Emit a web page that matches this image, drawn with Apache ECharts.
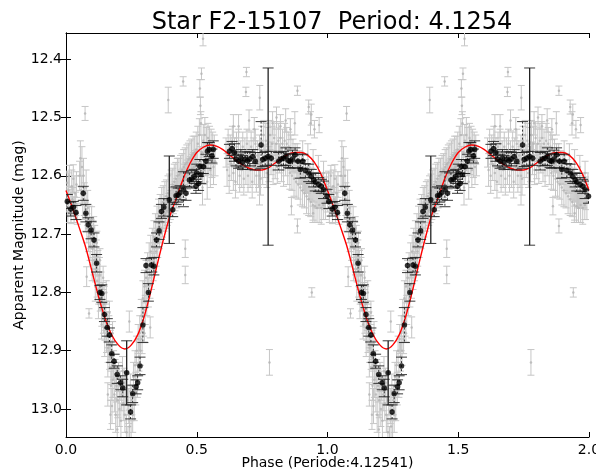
<!DOCTYPE html>
<html><head><meta charset="utf-8">
<script src="https://cdn.jsdelivr.net/npm/echarts@6/dist/echarts.min.js"></script>
<style>html,body{margin:0;padding:0;background:#fff}#c{width:596px;height:472px}</style>
</head><body><div id="c"></div>
<script>
// ---- data (phase in one cycle, magnitude) ----
const titleText = 'Star F2-15107  Period: 4.1254';
const xName = 'Phase (Periode:4.12541)';
const yName = 'Apparent Magnitude (mag)';
const xTicks = [0, 0.5, 1, 1.5, 2];
const yTicks = [12.4, 12.5, 12.6, 12.7, 12.8, 12.9, 13.0];
const cycles = [0, 1];

const fitPhase = [0,0.025,0.05,0.075,0.1,0.125,0.15,0.175,0.2,0.225,0.25,0.275,0.3,0.325,0.35,0.375,0.4,0.425,0.45,0.475,0.5,0.525,0.55,0.575,0.6,0.625,0.65,0.675,0.7,0.725,0.75,0.775,0.8,0.825,0.85,0.875,0.9,0.925,0.95,0.975,1.0];
const fitMag = [12.625,12.655,12.688,12.722,12.765,12.808,12.845,12.873,12.890,12.897,12.890,12.872,12.840,12.797,12.750,12.705,12.665,12.635,12.603,12.578,12.560,12.551,12.547,12.549,12.555,12.564,12.573,12.581,12.587,12.590,12.590,12.586,12.578,12.570,12.563,12.560,12.560,12.565,12.577,12.597,12.625];

// [phase, mag, error]
const blackPoints = [
[0.005,12.644,0.012],[0.018,12.657,0.012],[0.028,12.654,0.01],[0.038,12.663,0.012],[0.066,12.630,0.012],
[0.076,12.664,0.015],[0.085,12.684,0.012],[0.096,12.693,0.015],[0.107,12.710,0.012],[0.117,12.750,0.015],
[0.130,12.800,0.012],[0.137,12.802,0.015],[0.147,12.838,0.012],[0.158,12.860,0.015],[0.166,12.873,0.012],
[0.175,12.905,0.015],[0.184,12.918,0.012],[0.196,12.941,0.015],[0.209,12.955,0.012],[0.217,12.964,0.015],
[0.232,12.938,0.055],[0.247,13.005,0.012],[0.255,12.974,0.015],[0.268,12.962,0.012],[0.274,12.955,0.012],
[0.283,12.926,0.015],[0.294,12.856,0.03],[0.306,12.754,0.012],[0.315,12.800,0.015],[0.327,12.753,0.012],
[0.336,12.755,0.015],[0.346,12.710,0.012],[0.356,12.694,0.015],[0.365,12.661,0.012],[0.374,12.654,0.015],
[0.395,12.641,0.075],[0.408,12.658,0.012],[0.421,12.634,0.015],[0.429,12.633,0.012],[0.436,12.629,0.012],
[0.449,12.623,0.03],[0.459,12.630,0.012],[0.472,12.607,0.012],[0.481,12.606,0.015],[0.490,12.601,0.012],
[0.500,12.595,0.015],[0.497,12.618,0.012],[0.507,12.613,0.012],[0.512,12.584,0.012],[0.516,12.598,0.015],
[0.525,12.584,0.012],[0.535,12.575,0.012],[0.541,12.558,0.015],[0.548,12.555,0.012],[0.558,12.566,0.012],
[0.563,12.555,0.015],[0.625,12.558,0.012],[0.635,12.553,0.012],[0.644,12.560,0.015],[0.650,12.571,0.012],
[0.660,12.575,0.012],[0.669,12.570,0.015],[0.675,12.577,0.012],[0.685,12.571,0.012],[0.694,12.574,0.015],
[0.703,12.571,0.012],[0.714,12.567,0.012],[0.724,12.575,0.015],[0.746,12.547,0.04],[0.752,12.572,0.012],
[0.762,12.570,0.012],[0.773,12.567,0.152],[0.785,12.570,0.012],[0.813,12.575,0.015],[0.823,12.571,0.012],
[0.832,12.570,0.012],[0.841,12.567,0.015],[0.851,12.574,0.012],[0.857,12.575,0.012],[0.866,12.571,0.015],
[0.876,12.564,0.012],[0.887,12.575,0.012],[0.896,12.589,0.015],[0.905,12.575,0.012],[0.915,12.591,0.012],
[0.928,12.595,0.015],[0.938,12.601,0.012],[0.947,12.607,0.012],[0.953,12.611,0.015],[0.966,12.615,0.012],
[0.976,12.618,0.012],[0.985,12.624,0.015],[0.998,12.635,0.012]
];

const grayPoints = [
[0.001,12.640,0.022],[0.004,12.612,0.020],[0.007,12.655,0.025],[0.010,12.625,0.030],[0.013,12.600,0.018],
[0.016,12.645,0.022],[0.019,12.662,0.020],[0.022,12.618,0.028],[0.025,12.640,0.020],[0.028,12.605,0.024],
[0.031,12.658,0.022],[0.034,12.630,0.030],[0.037,12.648,0.020],[0.040,12.615,0.022],[0.043,12.665,0.018],
[0.052,12.600,0.025],[0.055,12.570,0.030],[0.058,12.625,0.025],[0.061,12.585,0.035],[0.064,12.650,0.025],
[0.067,12.600,0.030],[0.070,12.640,0.028],[0.073,12.493,0.012],[0.074,12.670,0.025],[0.077,12.620,0.030],
[0.080,12.690,0.025],[0.079,12.773,0.017],[0.083,12.655,0.030],[0.086,12.705,0.025],[0.088,12.836,0.008],
[0.089,12.680,0.028],[0.092,12.720,0.025],
[0.095,12.700,0.025],[0.098,12.675,0.022],[0.101,12.725,0.028],[0.104,12.700,0.020],[0.107,12.745,0.025],
[0.110,12.715,0.030],[0.113,12.760,0.022],[0.116,12.735,0.025],[0.119,12.780,0.028],[0.122,12.750,0.022],
[0.125,12.795,0.025],[0.128,12.770,0.030],[0.131,12.810,0.022],[0.134,12.790,0.025],[0.137,12.830,0.028],
[0.140,12.805,0.022],[0.143,12.845,0.025],[0.146,12.820,0.030],[0.149,12.860,0.022],[0.152,12.840,0.025],
[0.155,12.875,0.028],[0.158,12.855,0.022],[0.161,12.895,0.025],[0.164,12.870,0.030],[0.167,12.910,0.022],
[0.170,12.890,0.025],[0.173,12.930,0.028],[0.176,12.905,0.022],[0.179,12.950,0.030],[0.182,12.925,0.025],
[0.100,12.760,0.020],[0.106,12.690,0.020],[0.112,12.790,0.025],[0.118,12.715,0.020],[0.124,12.820,0.025],
[0.130,12.745,0.020],[0.136,12.855,0.025],[0.142,12.775,0.020],[0.148,12.885,0.025],[0.154,12.800,0.020],
[0.160,12.920,0.025],[0.166,12.835,0.020],[0.172,12.960,0.025],[0.178,12.870,0.020],
[0.160,12.975,0.020],[0.170,13.010,0.025],[0.176,12.995,0.030],
[0.185,12.975,0.030],[0.188,12.940,0.025],[0.190,13.010,0.030],[0.193,12.960,0.028],[0.196,13.035,0.025],
[0.198,12.985,0.030],[0.201,12.945,0.025],[0.204,13.000,0.030],[0.207,12.960,0.025],[0.210,13.020,0.030],
[0.213,12.975,0.028],[0.216,12.935,0.025],[0.219,12.990,0.030],[0.222,12.955,0.025],[0.225,13.010,0.030],
[0.228,12.965,0.028],[0.231,13.040,0.030],[0.234,12.985,0.025],[0.237,13.060,0.030],[0.240,12.995,0.030],
[0.243,13.030,0.028],[0.246,12.970,0.030],[0.249,13.050,0.030],[0.252,12.985,0.025],[0.255,13.010,0.030],
[0.258,12.945,0.025],[0.261,12.990,0.030],[0.264,12.925,0.025],[0.267,12.965,0.028],[0.270,12.900,0.025],
[0.273,12.950,0.030],[0.276,12.880,0.025],[0.242,12.850,0.018],
[0.279,12.910,0.025],[0.282,12.870,0.030],[0.285,12.900,0.025],[0.288,12.840,0.028],[0.291,12.880,0.025],
[0.294,12.810,0.030],[0.297,12.850,0.025],[0.300,12.790,0.028],[0.303,12.830,0.025],[0.306,12.775,0.030],
[0.309,12.815,0.025],[0.312,12.760,0.028],[0.315,12.800,0.025],[0.318,12.745,0.030],[0.321,12.785,0.025],
[0.324,12.730,0.028],[0.327,12.770,0.025],[0.330,12.720,0.030],[0.333,12.755,0.025],[0.336,12.705,0.028],
[0.339,12.740,0.025],[0.342,12.695,0.030],[0.345,12.730,0.025],[0.348,12.680,0.028],[0.351,12.715,0.025],
[0.354,12.670,0.030],[0.357,12.700,0.025],[0.360,12.660,0.028],[0.363,12.690,0.025],[0.366,12.650,0.030],
[0.369,12.680,0.025],[0.372,12.645,0.028],[0.375,12.670,0.025],[0.378,12.640,0.030],[0.381,12.665,0.025],
[0.384,12.635,0.028],[0.387,12.660,0.025],[0.390,12.630,0.030],[0.393,12.655,0.025],[0.396,12.625,0.028],
[0.399,12.650,0.025],[0.402,12.620,0.030],[0.405,12.645,0.025],[0.408,12.615,0.028],[0.411,12.640,0.025],
[0.414,12.610,0.030],[0.417,12.635,0.025],[0.420,12.605,0.028],[0.423,12.630,0.025],[0.426,12.600,0.030],
[0.429,12.625,0.025],[0.432,12.598,0.028],[0.435,12.620,0.025],[0.438,12.595,0.030],[0.441,12.615,0.025],
[0.444,12.590,0.028],[0.447,12.612,0.025],[0.450,12.585,0.030],[0.453,12.605,0.025],[0.456,12.580,0.028],
[0.459,12.602,0.025],[0.462,12.577,0.030],[0.465,12.598,0.025],[0.468,12.572,0.028],[0.471,12.595,0.025],
[0.474,12.570,0.030],[0.477,12.592,0.025],[0.480,12.565,0.028],[0.483,12.588,0.025],[0.486,12.562,0.030],
[0.489,12.585,0.025],[0.492,12.560,0.028],[0.495,12.582,0.025],[0.498,12.555,0.030],
[0.391,12.470,0.022],[0.448,12.438,0.008],[0.456,12.725,0.015],[0.456,12.770,0.015],[0.300,12.870,0.015],[0.322,12.860,0.018],
[0.501,12.580,0.025],[0.504,12.545,0.030],[0.507,12.600,0.025],[0.510,12.530,0.028],[0.512,12.450,0.015],
[0.513,12.575,0.025],[0.514,12.480,0.015],[0.516,12.510,0.020],[0.518,12.425,0.010],[0.519,12.560,0.030],
[0.522,12.620,0.030],[0.524,12.365,0.012],[0.525,12.540,0.028],[0.528,12.590,0.025],[0.531,12.530,0.030],
[0.534,12.575,0.025],[0.537,12.545,0.028],[0.540,12.610,0.030],[0.543,12.535,0.025],[0.546,12.570,0.028],
[0.549,12.540,0.025],[0.552,12.590,0.030],[0.555,12.545,0.025],[0.558,12.575,0.028],[0.561,12.550,0.025],
[0.564,12.585,0.030],[0.567,12.555,0.025],[0.570,12.575,0.025],
[0.612,12.560,0.025],[0.616,12.590,0.028],[0.620,12.545,0.025],[0.624,12.600,0.030],[0.628,12.555,0.025],
[0.632,12.580,0.028],[0.636,12.540,0.025],[0.640,12.595,0.030],[0.644,12.560,0.025],[0.648,12.610,0.028],
[0.652,12.550,0.025],[0.656,12.585,0.030],[0.660,12.545,0.025],[0.664,12.600,0.028],[0.668,12.565,0.025],
[0.672,12.590,0.030],[0.676,12.550,0.025],[0.680,12.605,0.028],[0.684,12.560,0.025],[0.688,12.585,0.030],
[0.692,12.545,0.025],[0.696,12.600,0.028],[0.700,12.565,0.025],[0.704,12.590,0.030],[0.708,12.550,0.025],
[0.712,12.610,0.028],[0.716,12.560,0.025],[0.720,12.585,0.030],[0.724,12.545,0.025],[0.728,12.600,0.028],
[0.732,12.565,0.025],[0.736,12.590,0.030],[0.740,12.555,0.025],[0.744,12.605,0.028],[0.748,12.540,0.025],
[0.752,12.585,0.030],[0.756,12.530,0.025],[0.760,12.575,0.028],[0.764,12.540,0.030],[0.768,12.595,0.025],
[0.772,12.545,0.028],[0.776,12.580,0.030],[0.780,12.530,0.025],[0.784,12.570,0.028],[0.788,12.545,0.030],
[0.792,12.590,0.025],[0.796,12.535,0.028],[0.800,12.575,0.030],[0.804,12.545,0.025],[0.808,12.585,0.028],
[0.812,12.540,0.030],[0.816,12.570,0.025],[0.820,12.535,0.028],[0.824,12.580,0.030],[0.828,12.545,0.025],
[0.832,12.590,0.028],[0.836,12.540,0.030],[0.840,12.575,0.025],[0.844,12.545,0.028],[0.848,12.585,0.030],
[0.852,12.550,0.025],[0.856,12.595,0.028],[0.860,12.560,0.030],[0.864,12.600,0.025],[0.868,12.565,0.028],
[0.872,12.605,0.030],[0.876,12.570,0.025],[0.880,12.610,0.028],[0.884,12.575,0.030],[0.888,12.615,0.025],
[0.892,12.585,0.028],[0.896,12.620,0.030],[0.900,12.590,0.025],[0.904,12.625,0.028],[0.908,12.595,0.030],
[0.912,12.630,0.025],[0.916,12.600,0.028],[0.920,12.635,0.030],[0.924,12.605,0.025],[0.928,12.640,0.028],
[0.932,12.610,0.030],[0.936,12.645,0.025],[0.940,12.615,0.028],[0.944,12.650,0.030],[0.948,12.620,0.025],
[0.952,12.652,0.028],[0.956,12.625,0.030],[0.960,12.655,0.025],[0.964,12.628,0.028],[0.968,12.650,0.030],
[0.972,12.630,0.025],[0.976,12.655,0.028],[0.980,12.625,0.030],[0.984,12.650,0.025],[0.988,12.630,0.028],
[0.992,12.645,0.030],[0.996,12.620,0.025],
[0.905,12.560,0.020],[0.925,12.565,0.020],[0.945,12.575,0.020],[0.965,12.585,0.020],[0.985,12.595,0.020],
[0.790,12.510,0.020],[0.805,12.500,0.018],[0.820,12.515,0.020],[0.840,12.505,0.020],[0.858,12.520,0.018],
[0.875,12.510,0.020],[0.935,12.510,0.020],[0.950,12.520,0.015],[0.660,12.515,0.020],[0.700,12.505,0.018],
[0.720,12.520,0.020],[0.640,12.515,0.020],
[0.690,12.422,0.008],[0.688,12.456,0.008],[0.741,12.466,0.021],[0.740,12.600,0.050],[0.885,12.454,0.008],
[0.928,12.482,0.012],[0.938,12.495,0.018],[0.968,12.513,0.013],[0.778,12.920,0.022],[0.940,12.800,0.008],
[0.885,12.686,0.012],[0.862,12.652,0.015],[0.945,12.664,0.012]
];

// ---- build ----
function unfold(points) {
  const out = [];
  cycles.forEach(c => points.forEach(p => out.push([p[0] + c, p[1], p[2]])));
  return out;
}
const grayData = unfold(grayPoints);
const blackData = unfold(blackPoints);
const fitData = [];
cycles.forEach(c => fitPhase.forEach((p, i) => fitData.push([p + c, fitMag[i]])));

function errRenderer(capHalf, color, lw, dash, solidAbove) {
  return function (params, api) {
    const x = api.value(0), y = api.value(1), e = api.value(2);
    const a = api.coord([x, y - e]);
    const b = api.coord([x, y + e]);
    const cx = a[0];
    const big = solidAbove != null && e >= solidAbove;
    const st = { stroke: color, lineWidth: lw, fill: null };
    const vst = { stroke: color, lineWidth: big ? 1.3 : lw, fill: null, lineDash: big ? null : (dash || null) };
    return {
      type: 'group',
      children: [
        { type: 'line', shape: { x1: cx, y1: a[1], x2: cx, y2: b[1] }, style: vst },
        { type: 'line', shape: { x1: cx - capHalf, y1: a[1], x2: cx + capHalf, y2: a[1] }, style: st },
        { type: 'line', shape: { x1: cx - capHalf, y1: b[1], x2: cx + capHalf, y2: b[1] }, style: st }
      ]
    };
  };
}

const FONT = 'DejaVu Sans';
const GRAY = '#c6c6c6';
const fmt = v => Number(v).toFixed(1);
const axisLine = { show: true, lineStyle: { color: '#000', width: 1 } };
const tickStyle = { show: true, inside: true, length: 5, lineStyle: { color: '#000', width: 1 } };
const labelStyle = { color: '#000', fontSize: 14, fontFamily: FONT };
const yMin = 12.355, yMax = 13.048;

const chart = echarts.init(document.getElementById('c'), null, { renderer: 'canvas' });
chart.setOption({
  animation: false,
  backgroundColor: '#fff',
  title: {
    text: titleText, left: 327, top: 6, textAlign: 'center',
    textStyle: { fontFamily: FONT, fontSize: 24, fontWeight: 'normal', color: '#000' }
  },
  grid: { left: 66, right: 7, top: 33, bottom: 35, containLabel: false, outerBoundsMode: 'none' },
  xAxis: [
    { type: 'value', min: 0, max: 2, interval: 0.5, position: 'bottom',
      axisLine, axisTick: tickStyle, splitLine: { show: false },
      axisLabel: Object.assign({ formatter: fmt, margin: 6 }, labelStyle),
      name: xName, nameLocation: 'middle', nameGap: 19, nameMoveOverlap: false,
      nameTextStyle: { fontFamily: FONT, fontSize: 14, color: '#000' } },
    { type: 'value', min: 0, max: 2, interval: 0.5, position: 'top',
      axisLine, axisTick: tickStyle, splitLine: { show: false }, axisLabel: { show: false } }
  ],
  yAxis: [
    { type: 'value', inverse: true, min: yMin, max: yMax, position: 'left',
      axisLine, splitLine: { show: false },
      axisTick: Object.assign({ customValues: yTicks }, tickStyle),
      axisLabel: Object.assign({ formatter: fmt, margin: 4, customValues: yTicks }, labelStyle),
      name: yName, nameLocation: 'middle', nameGap: 40, nameMoveOverlap: false,
      nameTextStyle: { fontFamily: FONT, fontSize: 14, color: '#000' } },
    { type: 'value', inverse: true, min: yMin, max: yMax, position: 'right',
      axisLine, splitLine: { show: false },
      axisTick: Object.assign({ customValues: yTicks }, tickStyle),
      axisLabel: { show: false, customValues: yTicks } }
  ],
  series: [
    { type: 'custom', name: 'grayErr', data: grayData, clip: true, z: 1,
      encode: { x: 0, y: 1 }, renderItem: errRenderer(3.5, GRAY, 1), silent: true },
    { type: 'scatter', name: 'grayPts', data: grayData, clip: true, z: 2,
      symbol: 'circle', symbolSize: 2.5, itemStyle: { color: '#b4b4b4' }, silent: true },
    { type: 'line', name: 'fit', data: fitData, z: 3, showSymbol: false, smooth: 0.3,
      lineStyle: { color: '#ff0000', width: 1.4 }, clip: true, silent: true },
    { type: 'custom', name: 'blackErr', data: blackData, clip: true, z: 4,
      encode: { x: 0, y: 1 }, renderItem: errRenderer(5.5, '#222', 0.9, [2, 2], 0.05), silent: true },
    { type: 'scatter', name: 'blackPts', data: blackData, clip: true, z: 5,
      symbol: 'circle', symbolSize: 5.5, itemStyle: { color: '#000' }, silent: true }
  ]
});
</script>
</body></html>
